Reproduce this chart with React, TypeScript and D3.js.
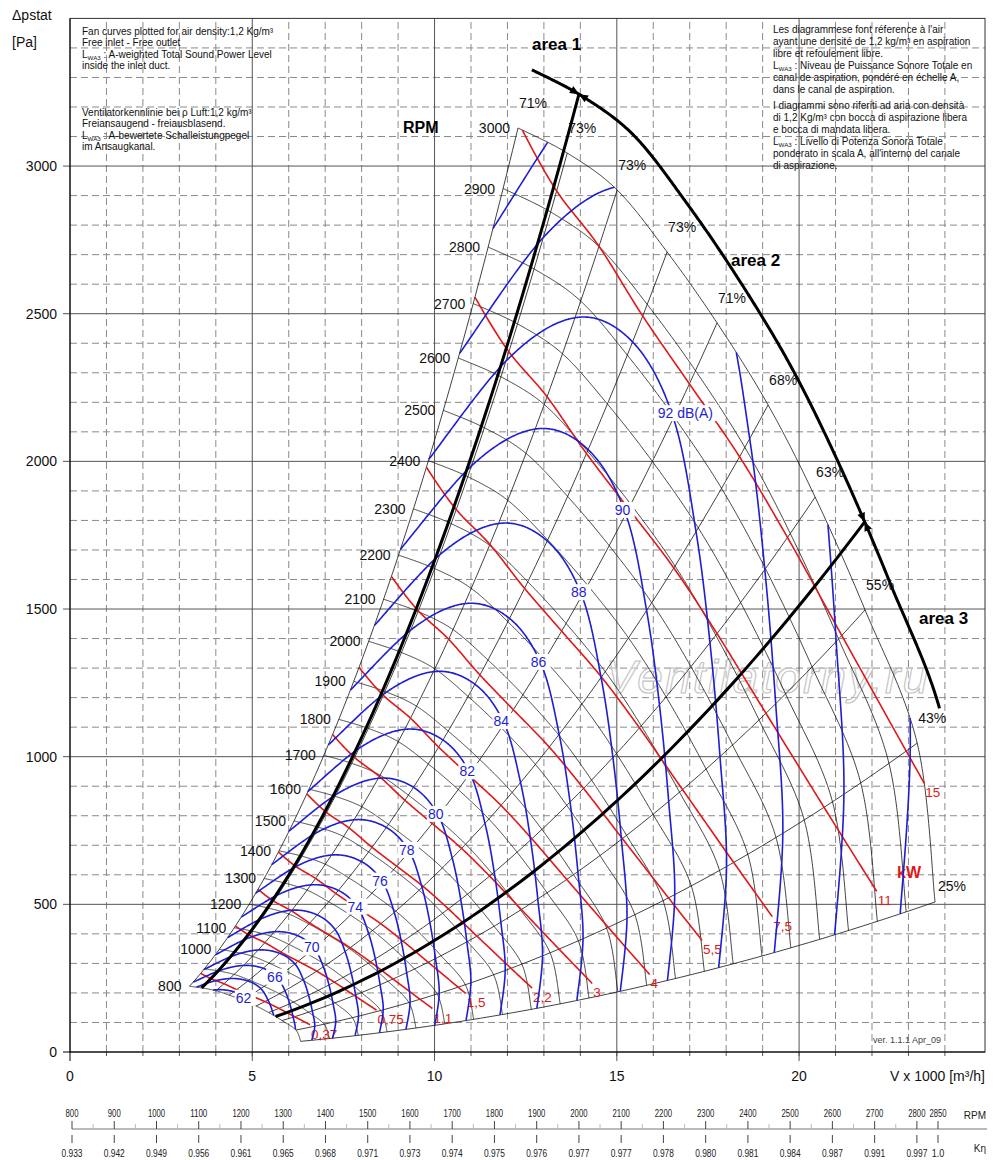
import * as d3 from "d3";

const W = 1000;
const H = 1160;

// 3000 rpm characteristic (upper right boundary), one point per efficiency line end
const BASE_FLOW = [12.29, 13.64, 15.01, 16.38, 17.75, 19.15, 20.44, 21.81, 23.24, 23.73];
const BASE_PRESS = [3129, 3044, 2919, 2709, 2469, 2191, 1879, 1497, 1046, 508];
const BASE_DB = [97.4, 95.2, 93.95, 93.45, 93.7, 94.65, 95.7, 96.9, 98.2, 99.0];
const BASE_KW = [14.9, 16.0, 16.6, 17.0, 17.1, 17.0, 16.8, 16.4, 15.6, 12.8];
const EFF_LABELS = ["71%", "73%", "73%", "73%", "71%", "68%", "63%", "55%", "43%", "25%"];

const RPMS = [800, 900, 1000, 1100, 1200, 1300, 1400, 1500, 1600, 1700, 1800, 1900, 2000, 2100, 2200, 2300, 2400, 2500, 2600, 2700, 2800, 2900, 3000];
const RPM_HIDDEN = [900];

const DB_LEVELS = [62, 64, 66, 68, 70, 72, 74, 76, 78, 80, 82, 84, 86, 88, 90, 92, 94, 96, 98];
const DB_LABELLED = [62, 66, 70, 74, 76, 78, 80, 82, 84, 86, 88, 90, 92];

const KW_LEVELS = [0.37, 0.75, 1.1, 1.5, 2.2, 3, 4, 5.5, 7.5, 11, 15];
const KW_TEXT = ["0,37", "0,75", "1,1", "1,5", "2,2", "3", "4", "5,5", "7,5", "11", "15"];
const KW_END_FLOW = [6.59, 8.42, 9.96, 10.86, 12.7, 14.35, 15.9, 17.37, 19.29, 22.14, 23.46];

// area limits: two system lines and the max speed arc
const AREA_LINE_T = [0.93, 6.52];
const AREA_RPM = 3093;
const AREA_ARC_END_T = 7.9;

const X_TICKS = [0, 5, 10, 15, 20];
const Y_TICKS = [0, 500, 1000, 1500, 2000, 2500, 3000];

const SCALE_RPM = [800, 900, 1000, 1100, 1200, 1300, 1400, 1500, 1600, 1700, 1800, 1900, 2000, 2100, 2200, 2300, 2400, 2500, 2600, 2700, 2800, 2850];
const SCALE_K = ["0.933", "0.942", "0.949", "0.956", "0.961", "0.965", "0.968", "0.971", "0.973", "0.974", "0.975", "0.976", "0.977", "0.977", "0.978", "0.980", "0.981", "0.984", "0.987", "0.991", "0.997", "1.0"];

const NOTE_LEFT_1 = ["Fan curves plotted for air density:1,2 Kg/m³", "Free inlet - Free outlet", "@ : A-weighted Total Sound Power Level", "inside the inlet duct."];
const NOTE_LEFT_2 = ["Ventilatorkennlinie bei ρ Luft:1,2 kg/m³", "Freiansaugend - freiausblasend.", "@ : A-bewertete Schalleistungpegel", "im Ansaugkanal."];
const NOTE_RIGHT_1 = ["Les diagrammese font réference à l'air", "ayant une densité de 1,2 kg/m³ en aspiration", "libre et refoulement libre.", "@ : Niveau de Puissance Sonore Totale en", "canal de aspiration, pondéré en échelle A,", "dans le canal de aspiration."];
const NOTE_RIGHT_2 = ["I diagrammi sono riferiti ad aria con densità", "di 1,2 Kg/m³ con bocca di aspirazione libera", "e bocca di mandata libera.", "@ : Livello di Potenza Sonora Totale", "ponderato in scala A, all'interno del canale", "di aspirazione."];

const BLUE = "#1e1ed2";
const RED = "#e01818";
const FONT = "'Liberation Sans', Arial, sans-serif";

// catmull-rom along the base point index
const spline = (vals: number[], t: number) => {
  const last = vals.length - 1;
  const i = Math.max(0, Math.min(last - 1, Math.floor(t)));
  const u = t - i;
  const p0 = vals[Math.max(0, i - 1)];
  const p1 = vals[i];
  const p2 = vals[i + 1];
  const p3 = vals[Math.min(last, i + 2)];
  return 0.5 * (2 * p1 + (-p0 + p2) * u + (2 * p0 - 5 * p1 + 4 * p2 - p3) * u * u + (-p0 + 3 * p1 - 3 * p2 + p3) * u * u * u);
};

const T_MAX = BASE_FLOW.length - 1;
const T_STEPS = d3.range(0, T_MAX + 1e-9, 0.02);

const Note = ({ lines, x, y, step }: { lines: string[]; x: number; y: number; step: number }) => (
  <text x={x} y={y} fontSize={10} fill="#111">
    {lines.map((l, i) => {
      if (l.startsWith("@")) {
        return (
          <tspan key={i} x={x} y={y + i * step}>
            L<tspan fontSize={6.2} dy={2}>WA3</tspan>
            <tspan dy={-2}>{l.slice(1)}</tspan>
          </tspan>
        );
      }
      return (
        <tspan key={i} x={x} y={y + i * step}>
          {l}
        </tspan>
      );
    })}
  </text>
);

export default function App() {
  const x = d3.scaleLinear().domain([0, 25.1]).range([70, 985]);
  const y = d3.scaleLinear().domain([0, 3500]).range([1052, 18.4]);
  const xr = d3.scaleLinear().domain([800, 2850]).range([72, 938]);
  const line = d3.line<[number, number]>();

  const pt = (t: number, rpm: number): [number, number] => {
    const s = rpm / 3000;
    return [x(spline(BASE_FLOW, t) * s), y(spline(BASE_PRESS, t) * s * s)];
  };

  // iso lines: rpm as a function of the position along the curve, clipped to 800..3000
  const isoSegments = (rpmAt: (t: number) => number) => {
    const segs: [number, number][][] = [];
    let cur: [number, number][] | null = null;
    let pT = 0;
    let pN = 0;
    T_STEPS.forEach((t, k) => {
      const n = rpmAt(t);
      const inside = n >= 800 && n <= 3000;
      const cross = (a: number, b: number) => {
        const bound = (a > 3000 || b > 3000) ? 3000 : 800;
        const f = (Math.log(bound) - Math.log(a)) / (Math.log(b) - Math.log(a));
        return pt(pT + f * (t - pT), bound);
      };
      if (inside) {
        if (!cur) {
          cur = [];
          if (k > 0) cur.push(cross(pN, n));
        }
        cur.push(pt(t, n));
      } else if (cur) {
        cur.push(cross(pN, n));
        segs.push(cur);
        cur = null;
      }
      pT = t;
      pN = n;
    });
    if (cur) segs.push(cur);
    return segs;
  };

  const dbRpm = (L: number) => (t: number) => 3000 * Math.pow(10, (L - spline(BASE_DB, t)) / 56);
  const kwRpm = (P: number) => (t: number) => 3000 * Math.cbrt(P / spline(BASE_KW, t));

  const minorX = d3.range(1, 25).filter((v) => v % 5 !== 0);
  const minorY = d3.range(100, 3500, 100).filter((v) => v % 500 !== 0);

  const arc = T_STEPS.filter((t) => t <= AREA_ARC_END_T).map((t) => pt(t, AREA_RPM));
  const sLine = (t: number, rpmTop: number) =>
    d3.range(0, 61).map((k) => pt(t, 800 + ((rpmTop - 800) * k) / 60));

  const bowtie = (t: number, key: string) => {
    const [cx, cy] = pt(t, AREA_RPM);
    const [ax, ay] = pt(t - 0.05, AREA_RPM);
    const [bx, by] = pt(t + 0.05, AREA_RPM);
    const len = Math.hypot(bx - ax, by - ay);
    const ux = (bx - ax) / len;
    const uy = (by - ay) / len;
    const nx = -uy;
    const ny = ux;
    const L = 9;
    const Wd = 4;
    const tri = (dir: number) =>
      `M${cx},${cy}L${cx - dir * ux * L + nx * Wd},${cy - dir * uy * L + ny * Wd}L${cx - dir * ux * L - nx * Wd},${cy - dir * uy * L - ny * Wd}Z`;
    return (
      <g key={key} fill="#000">
        <path d={tri(1)} />
        <path d={tri(-1)} />
      </g>
    );
  };

  const kwLines = KW_LEVELS.map((P, i) => {
    const xEnd = x(KW_END_FLOW[i]);
    return isoSegments(kwRpm(P)).map((s) => s.filter((p) => p[0] <= xEnd)).filter((s) => s.length > 1);
  });

  return (
    <svg width={W} height={H} style={{ position: "absolute", left: 0, top: 0, background: "#fff" }} fontFamily={FONT}>
      <rect width={W} height={H} fill="#fff" />

      {/* grid */}
      <g stroke="#8a8a8a" strokeWidth={1} strokeDasharray="7,4">
        {minorX.map((v) => (
          <line key={"vx" + v} x1={x(v)} x2={x(v)} y1={y(0)} y2={y(3500)} />
        ))}
        {minorY.map((v) => (
          <line key={"hy" + v} x1={x(0)} x2={x(25.1)} y1={y(v)} y2={y(v)} />
        ))}
      </g>
      <g stroke="#555" strokeWidth={1}>
        {[5, 10, 15, 20].map((v) => (
          <line key={"VX" + v} x1={x(v)} x2={x(v)} y1={y(0) + 9} y2={y(3500)} />
        ))}
        {[500, 1000, 1500, 2000, 2500, 3000].map((v) => (
          <line key={"HY" + v} x1={x(0) - 7} x2={x(25.1)} y1={y(v)} y2={y(v)} />
        ))}
        {d3.range(1, 25).map((v) => (
          <line key={"tk" + v} x1={x(v)} x2={x(v)} y1={y(0)} y2={y(0) + 4} />
        ))}
      </g>
      <rect x={x(0)} y={y(3500)} width={x(25.1) - x(0)} height={y(0) - y(3500)} fill="none" stroke="#333" strokeWidth={1} />
      <line x1={x(0)} x2={x(0)} y1={y(0) + 9} y2={y(3500)} stroke="#000" />
      <line x1={x(0) - 7} x2={x(25.1)} y1={y(0)} y2={y(0)} stroke="#000" />

      {/* notes */}
      <Note lines={NOTE_LEFT_1} x={82} y={35} step={11.4} />
      <Note lines={NOTE_LEFT_2} x={82} y={116} step={11.4} />
      <Note lines={NOTE_RIGHT_1} x={773} y={33} step={11.9} />
      <Note lines={NOTE_RIGHT_2} x={773} y={109} step={11.9} />

      {/* watermark */}
      <text x={606} y={693} fontSize={46} fontStyle="italic" fill="#fff" fillOpacity={0.35} stroke="#c2c2c2" strokeWidth={1.1} textLength={322}>
        Ventilatorny.ru
      </text>

      {/* efficiency (system) lines */}
      <g fill="none" stroke="#111" strokeWidth={0.8}>
        {EFF_LABELS.map((lab, i) => <path key={"e" + i} d={line(sLine(i, 3000)) ?? ""} />)}
      </g>

      {/* rpm curves */}
      <g fill="none" stroke="#111" strokeWidth={0.8}>
        {RPMS.map((r) => (
          <path key={"r" + r} d={line(T_STEPS.map((t) => pt(t, r))) ?? ""} />
        ))}
      </g>

      {/* power lines */}
      <g fill="none" stroke={RED} strokeWidth={1.6}>
        {kwLines.map((segs, i) => segs.map((s, j) => <path key={"k" + i + "_" + j} d={line(s) ?? ""} />))}
      </g>
      <g fill={RED} fontSize={13.5}>
        {kwLines.map((segs, i) => {
          const pts = segs.flat();
          const e = pts[pts.length - 1];
          return (
            <text key={"kt" + i} x={e[0] + 1} y={e[1] + 14}>
              {KW_TEXT[i]}
            </text>
          );
        })}
        <text x={897} y={878} fontSize={16} fontWeight="bold">
          kW
        </text>
      </g>

      {/* sound level curves */}
      <g fill="none" stroke={BLUE} strokeWidth={1.6}>
        {DB_LEVELS.map((L) =>
          isoSegments(dbRpm(L)).map((s, j) => <path key={"d" + L + "_" + j} d={line(s) ?? ""} />)
        )}
      </g>
      <g fill={BLUE} fontSize={14}>
        {DB_LABELLED.map((L) => {
          const n = dbRpm(L)(3.95);
          const [px, py] = pt(3.95, n);
          const big = L === 92;
          const txt = big ? "92 dB(A)" : String(L);
          const w = big ? 60 : 19;
          const x0 = big ? px - 14 : px - w / 2;
          return (
            <g key={"dl" + L}>
              <rect x={x0 - 1} y={py - 8} width={w + 2} height={16} fill="#fff" />
              <text x={x0} y={py + 5}>
                {txt}
              </text>
            </g>
          );
        })}
      </g>

      {/* area limits */}
      <g fill="none" stroke="#000" strokeWidth={3}>
        <path d={line(arc) ?? ""} />
        {AREA_LINE_T.map((t) => (
          <path key={"a" + t} d={line(sLine(t, AREA_RPM)) ?? ""} />
        ))}
      </g>
      {AREA_LINE_T.map((t) => bowtie(t, "bt" + t))}
      <g fontSize={17} fontWeight="bold" fill="#000">
        <text x={532} y={50}>area 1</text>
        <text x={731} y={266}>area 2</text>
        <text x={919} y={624}>area 3</text>
        <text x={403} y={133} fontSize={16}>RPM</text>
      </g>

      {/* rpm labels */}
      <g fontSize={14} fill="#111" textAnchor="end">
        {RPMS.filter((r) => !RPM_HIDDEN.includes(r)).map((r) => {
          const [px, py] = pt(0, r);
          return (
            <text key={"rl" + r} x={px - 8} y={py + 5}>
              {r}
            </text>
          );
        })}
      </g>

      {/* efficiency labels */}
      <g fontSize={14} fill="#111">
        {EFF_LABELS.map((lab, i) => {
          const [px, py] = pt(i, 3000);
          const last = i === T_MAX;
          return (
            <text key={"el" + i} x={px + (last ? 3 : 1)} y={py - (last ? 11 : 20)}>
              {lab}
            </text>
          );
        })}
      </g>

      {/* axes labels */}
      <g fontSize={14} fill="#111">
        <text x={12} y={20}>Δpstat</text>
        <text x={12} y={47}>[Pa]</text>
        {Y_TICKS.map((v) => (
          <text key={"yl" + v} x={57} y={y(v) + 5} textAnchor="end">
            {v}
          </text>
        ))}
        {X_TICKS.map((v) => (
          <text key={"xl" + v} x={x(v)} y={1081} textAnchor="middle">
            {v}
          </text>
        ))}
        <text x={985} y={1081} textAnchor="end">
          V x 1000 [m³/h]
        </text>
      </g>
      <text x={873} y={1043} fontSize={9} fill="#444">
        ver. 1.1.1 Apr_09
      </text>

      {/* rpm / K eta scale */}
      <line x1={72} x2={987} y1={1129} y2={1129} stroke="#777" />
      <g stroke="#bbb">
        {SCALE_RPM.slice(0, -2).map((r) => (
          <line key={"mt" + r} x1={xr(r + 50)} x2={xr(r + 50)} y1={1124} y2={1129} />
        ))}
      </g>
      <g stroke="#444">
        {SCALE_RPM.map((r) => (
          <g key={"st" + r}>
            <line x1={xr(r)} x2={xr(r)} y1={1121} y2={1129} />
            <line x1={xr(r)} x2={xr(r)} y1={1135} y2={1143} />
          </g>
        ))}
      </g>
      <g fontSize={10} fill="#222" textAnchor="middle">
        {SCALE_RPM.map((r, i) => (
          <g key={"sl" + r}>
            <text x={xr(r)} y={1117} textLength={String(r).length * 4.3} lengthAdjust="spacingAndGlyphs">
              {r}
            </text>
            <text x={xr(r)} y={1157} textLength={SCALE_K[i].length * 4.2} lengthAdjust="spacingAndGlyphs">
              {SCALE_K[i]}
            </text>
          </g>
        ))}
        <text x={986} y={1119} textAnchor="end">RPM</text>
        <text x={986} y={1152} textAnchor="end">Kη</text>
      </g>
    </svg>
  );
}
